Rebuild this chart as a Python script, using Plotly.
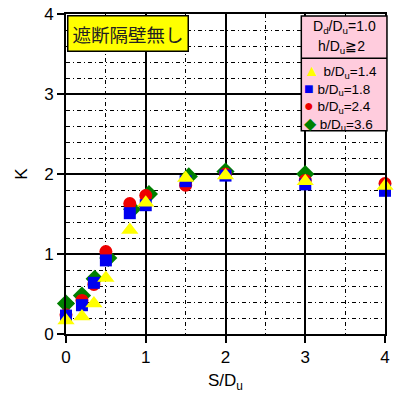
import plotly.graph_objects as go

# ---- data ----
x_14 = [0, 0.2, 0.35, 0.5, 0.8, 1.0, 1.5, 2.0, 3.0, 4.0]
k_14 = [0.17, 0.22, 0.38, 0.70, 1.30, 1.64, 1.95, 1.98, 1.91, 1.85]

x_18 = [0, 0.2, 0.35, 0.5, 0.8, 1.0, 1.5, 2.0, 3.0, 4.0]
k_18 = [0.23, 0.36, 0.64, 0.92, 1.51, 1.61, 1.91, 1.98, 1.87, 1.79]

x_24 = [0, 0.2, 0.35, 0.5, 0.8, 1.0, 1.5, 2.0, 3.0, 4.0]
k_24 = [0.24, 0.42, 0.62, 1.03, 1.63, 1.73, 1.86, 2.00, 1.92, 1.88]

x_36 = [0, 0.2, 0.36, 0.53, 0.83, 1.04, 1.54, 2.0, 3.0, 4.01]
k_36 = [0.38, 0.48, 0.69, 0.95, 1.56, 1.75, 1.97, 2.03, 2.00, 1.91]

x_ticks = [0, 1, 2, 3, 4]
y_ticks = [0, 1, 2, 3, 4]

series = [
    ("b/D<sub>u</sub>=3.6", x_36, k_36, "diamond", "#008000", 14),
    ("b/D<sub>u</sub>=2.4", x_24, k_24, "circle", "#EE0000", 13),
    ("b/D<sub>u</sub>=1.8", x_18, k_18, "square", "#0000F0", 12),
    ("b/D<sub>u</sub>=1.4", x_14, k_14, "triangle-up", "#FFFF00", 15),
]

fig = go.Figure()
for name, xs, ys, sym, col, sz in series:
    fig.add_trace(go.Scatter(
        x=xs, y=ys, mode="markers", name=name, cliponaxis=False,
        marker=dict(symbol=sym, color=col, size=sz, line=dict(width=0)),
        showlegend=False,
    ))

FONT = "Liberation Sans, Arial, sans-serif"
axis_common = dict(
    showline=True, linecolor="black", linewidth=2, mirror=True,
    showgrid=True, gridcolor="black", gridwidth=1.8,
    ticks="outside", ticklen=7, tickwidth=1.5, tickcolor="black",
    zeroline=False, ticklabeloverflow="allow",
    tickfont=dict(family=FONT, size=17, color="black"),
)

fig.update_xaxes(
    range=[0, 4], tickvals=x_ticks, ticktext=[str(v) for v in x_ticks],
    minor=dict(dtick=0.5, showgrid=True, gridcolor="black", gridwidth=1.3,
               griddash="4px,3px,1px,3px", ticks=""),
    title=dict(text="S/D<sub>u</sub>", font=dict(family=FONT, size=17, color="black"), standoff=8),
    **axis_common,
)
fig.update_yaxes(
    range=[0, 4], tickvals=y_ticks, ticktext=[str(v) for v in y_ticks],
    minor=dict(dtick=0.2, showgrid=True, gridcolor="black", gridwidth=1.3,
               griddash="4px,3px,1px,3px", ticks=""),
    title=dict(text="K", font=dict(family=FONT, size=17, color="black"), standoff=12),
    **axis_common,
)

# layout geometry helpers (paper coordinates)
L, R, T, B = 66, 5, 8, 65
W, H = 395, 399
pw, ph = W - L - R, H - T - B

def px(xp):
    return (xp - L) / pw

def py(yp):
    return (H - B - yp) / ph

shapes = [
    dict(type="rect", xref="paper", yref="paper",
         x0=px(305), x1=px(392), y0=py(127), y1=py(10),
         fillcolor="#FFCCDD", line=dict(color="black", width=1.5), layer="above"),
    dict(type="line", xref="paper", yref="paper",
         x0=px(305), x1=px(392), y0=py(53), y1=py(53),
         line=dict(color="black", width=1.5), layer="above"),
]

annotations = [
    dict(text="遮断隔壁無し", xref="paper", yref="paper", x=px(67), y=py(9),
         xanchor="left", yanchor="top", showarrow=False,
         font=dict(family="Noto Sans CJK JP", size=18.5, color="#222"),
         bgcolor="#FFFF00", bordercolor="black", borderwidth=1.5, borderpad=4),
    dict(text="D<sub>d</sub>/D<sub>u</sub>=1.0", xref="paper", yref="paper",
         x=px(349), y=py(21), xanchor="center", yanchor="middle", showarrow=False,
         font=dict(family=FONT, size=14, color="black")),
    dict(text="h/D<sub>u</sub>≧2", xref="paper", yref="paper",
         x=px(346), y=py(42), xanchor="center", yanchor="middle", showarrow=False,
         font=dict(family=FONT, size=14, color="black")),
]

legend_rows = [
    ("▲", "#FFFF00", "b/D<sub>u</sub>=1.4"),
    ("■", "#0000F0", "b/D<sub>u</sub>=1.8"),
    ("●", "#EE0000", "b/D<sub>u</sub>=2.4"),
    ("◆", "#008000", "b/D<sub>u</sub>=3.6"),
]
legend_text = "<br>".join(
    f'<span style="color:{col};font-size:16px">{sym}</span>\u00a0{txt}'
    for sym, col, txt in legend_rows
)
annotations.append(dict(text=legend_text, xref="paper", yref="paper",
                        x=px(306), y=py(55), xanchor="left", yanchor="top",
                        align="left", showarrow=False,
                        font=dict(family=FONT, size=13.5, color="black")))

fig.update_layout(
    width=W, height=H,
    margin=dict(l=L, r=R, t=T, b=B),
    paper_bgcolor="white", plot_bgcolor="white",
    shapes=shapes, annotations=annotations,
    showlegend=False,
)

fig.write_html("out.html")
